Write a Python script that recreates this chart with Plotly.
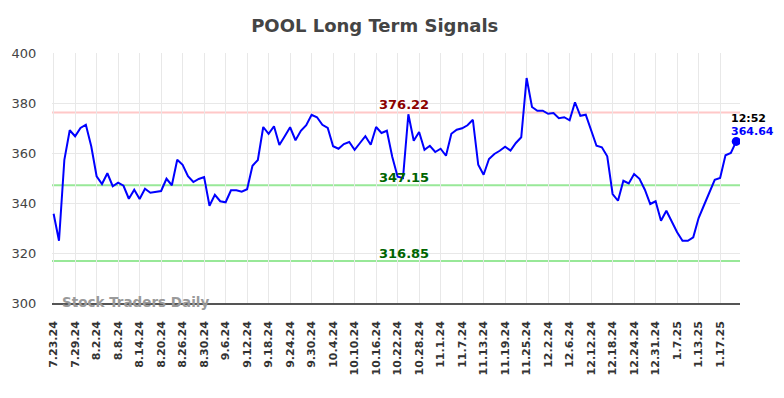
import plotly.graph_objects as go

dates = [
    "7.23.24", "7.24.24", "7.25.24", "7.26.24", "7.29.24", "7.30.24", "7.31.24",
    "8.1.24", "8.2.24", "8.5.24", "8.6.24", "8.7.24", "8.8.24", "8.9.24", "8.12.24", "8.13.24",
    "8.14.24", "8.15.24", "8.16.24", "8.19.24", "8.20.24", "8.21.24", "8.22.24", "8.23.24",
    "8.26.24", "8.27.24", "8.28.24", "8.29.24", "8.30.24",
    "9.3.24", "9.4.24", "9.5.24", "9.6.24", "9.9.24", "9.10.24", "9.11.24", "9.12.24", "9.13.24",
    "9.16.24", "9.17.24", "9.18.24", "9.19.24", "9.20.24", "9.23.24", "9.24.24", "9.25.24",
    "9.26.24", "9.27.24", "9.30.24",
    "10.1.24", "10.2.24", "10.3.24", "10.4.24", "10.7.24", "10.8.24", "10.9.24", "10.10.24",
    "10.11.24", "10.14.24", "10.15.24", "10.16.24", "10.17.24", "10.18.24", "10.21.24",
    "10.22.24", "10.23.24", "10.24.24", "10.25.24", "10.28.24", "10.29.24", "10.30.24", "10.31.24",
    "11.1.24", "11.4.24", "11.5.24", "11.6.24", "11.7.24", "11.8.24", "11.11.24", "11.12.24",
    "11.13.24", "11.14.24", "11.15.24", "11.18.24", "11.19.24", "11.20.24", "11.21.24",
    "11.22.24", "11.25.24", "11.26.24", "11.27.24", "11.29.24",
    "12.2.24", "12.3.24", "12.4.24", "12.5.24", "12.6.24", "12.9.24", "12.10.24", "12.11.24",
    "12.12.24", "12.13.24", "12.16.24", "12.17.24", "12.18.24", "12.19.24", "12.20.24",
    "12.23.24", "12.24.24", "12.26.24", "12.27.24", "12.30.24", "12.31.24",
    "1.2.25", "1.3.25", "1.6.25", "1.7.25", "1.8.25", "1.9.25", "1.10.25", "1.13.25",
    "1.14.25", "1.15.25", "1.16.25", "1.17.25", "1.21.25", "1.22.25", "1.23.25",
]

prices = [
    335.7, 324.9, 357.3, 369.1, 366.7, 370.0, 371.3, 362.7, 350.7, 347.6,
    351.9, 346.7, 348.1, 346.9, 341.7, 345.3, 341.6, 345.7, 344.1, 344.4,
    344.8, 349.7, 347.1, 357.3, 355.3, 350.7, 348.4, 349.6, 350.4, 338.9,
    343.3, 340.7, 340.3, 345.1, 345.1, 344.5, 345.5, 354.9, 357.2, 370.4,
    367.7, 370.7, 363.2, 366.7, 370.3, 365.1, 368.9, 371.1, 375.3, 374.3,
    371.3, 370.0, 362.7, 361.7, 363.6, 364.4, 361.3, 364.0, 366.7, 363.3,
    370.4, 368.0, 368.9, 358.5, 350.5, 350.0, 375.5, 364.9, 368.4, 361.3,
    362.9, 360.4, 361.7, 358.9, 367.7, 369.3, 369.9, 371.1, 373.3, 355.3,
    351.3, 357.6, 359.6, 360.9, 362.5, 361.0, 364.0, 366.3, 390.0, 378.4,
    376.9, 376.9, 375.7, 376.0, 373.9, 374.3, 373.1, 380.3, 374.9, 375.3,
    369.3, 362.9, 362.3, 358.7, 343.6, 340.9, 348.9, 347.8, 351.6, 349.7,
    345.3, 339.6, 340.7, 332.9, 336.9, 332.4, 328.3, 324.9, 324.9, 326.3,
    334.0, 339.1, 344.0, 349.3, 350.0, 359.1, 360.0, 364.64,
]

resistance = 376.22
support_levels = [347.15, 316.85]
last_time = "12:52"
tick_labels = dates[::4]

FONT = "DejaVu Sans"

fig = go.Figure()

fig.add_trace(go.Scatter(
    x=dates, y=prices, mode="lines",
    line=dict(color="#0000ff", width=2),
    hoverinfo="skip", showlegend=False,
))
fig.add_trace(go.Scatter(
    x=[dates[-1]], y=[prices[-1]], mode="markers",
    marker=dict(color="#0000ff", size=9),
    hoverinfo="skip", showlegend=False,
))

fig.add_hline(y=resistance, line=dict(color="#ffc8c8", width=2), layer="below")
for s in support_levels:
    fig.add_hline(y=s, line=dict(color="#98e898", width=2), layer="below")

fig.add_annotation(x=0.512, xref="paper", y=resistance, yref="y",
                   text=f"<b>{resistance:.2f}</b>", showarrow=False,
                   yanchor="bottom", yshift=-2,
                   font=dict(family=FONT, size=13, color="#8b0000"))
for s in support_levels:
    fig.add_annotation(x=0.512, xref="paper", y=s, yref="y",
                       text=f"<b>{s:.2f}</b>", showarrow=False,
                       yanchor="bottom", yshift=-2,
                       font=dict(family=FONT, size=13, color="#006400"))

fig.add_annotation(x=dates[-1], y=prices[-1], text=f"<b>{last_time}</b>",
                   showarrow=False, xanchor="left", yanchor="middle",
                   xshift=-7, yshift=23,
                   font=dict(family=FONT, size=11, color="#000000"))
fig.add_annotation(x=dates[-1], y=prices[-1], text=f"<b>{prices[-1]:.2f}</b>",
                   showarrow=False, xanchor="left", yanchor="middle",
                   xshift=-7, yshift=10,
                   font=dict(family=FONT, size=11, color="#0000ff"))

fig.add_annotation(x=0.012, xref="paper", y=0, yref="paper",
                   text="<b>Stock Traders Daily</b>", showarrow=False,
                   xanchor="left", yanchor="middle", yshift=1,
                   font=dict(family=FONT, size=13.5, color="#9a9a9a"))

fig.update_layout(
    width=784, height=398,
    margin=dict(l=47, r=44, t=53, b=95),
    paper_bgcolor="white", plot_bgcolor="white",
    title=dict(text="<b>POOL Long Term Signals</b>", x=0.478, xanchor="center",
               y=0.935, yanchor="middle",
               font=dict(family=FONT, size=18, color="#444444")),
    font=dict(family=FONT),
)

fig.update_xaxes(
    type="category",
    range=[-0.3, len(dates) - 0.3],
    tickmode="array", tickvals=tick_labels,
    ticktext=[f"<b>{t}</b>" for t in tick_labels],
    tickangle=-90,
    tickfont=dict(family=FONT, size=11, color="#333333"),
    showgrid=True, gridcolor="#e8e8e8", gridwidth=1,
    showline=True, linecolor="#555555", linewidth=1.5,
    ticks="outside", ticklen=12, tickcolor="rgba(0,0,0,0)",
    zeroline=False,
)
fig.update_yaxes(
    range=[300, 400], dtick=20,
    tickfont=dict(family=FONT, size=13, color="#444444"),
    showgrid=True, gridcolor="#e8e8e8", gridwidth=1,
    zeroline=False, ticks="outside", ticklen=12, tickcolor="rgba(0,0,0,0)",
)

fig.write_html(
    "out.html",
    config={"displayModeBar": False},
    post_script="document.body.style.margin='0';document.body.style.overflow='hidden';",
)
